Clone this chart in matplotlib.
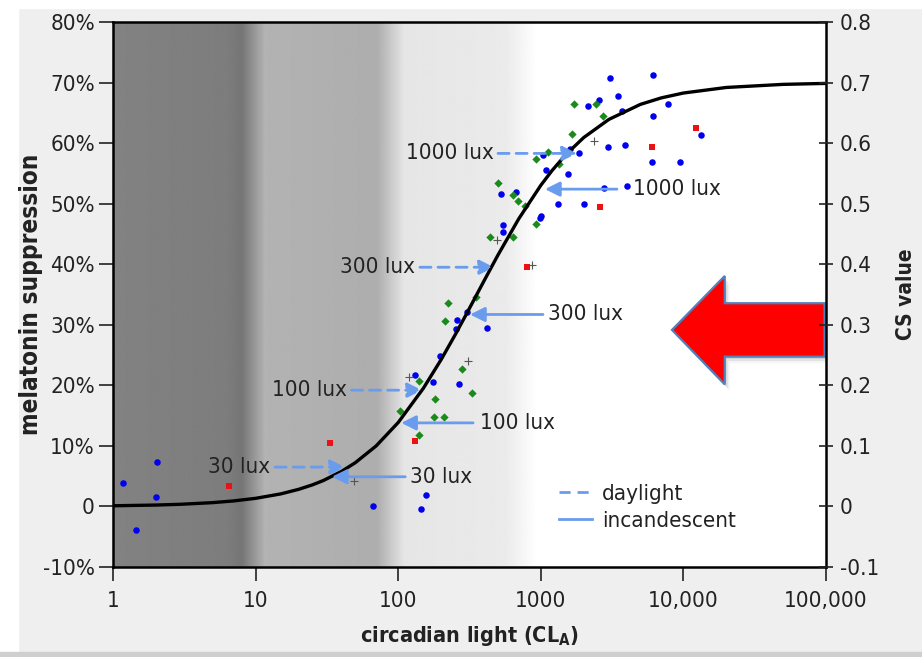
import numpy as np
import matplotlib
matplotlib.use("Agg")
import matplotlib.pyplot as plt
from matplotlib.lines import Line2D
from matplotlib.patches import Polygon, Rectangle

plt.rcParams['font.family'] = 'DejaVu Sans'
plt.rcParams['font.stretch'] = 'condensed'
plt.rcParams['mathtext.fontset'] = 'dejavusans'

# fitted CS curve (x in CL_A, y in % suppression)
curve_x = [1, 2, 3, 5, 7, 10, 15, 20, 25, 30, 40, 50, 70, 100, 150, 200, 250, 300, 400, 500,
           700, 1000, 1200, 1500, 2000, 3000, 5000, 7000, 10000, 20000, 50000, 100000]
curve_y = [0.11, 0.23, 0.36, 0.63, 0.91, 1.34, 2.07, 2.82, 3.56, 4.30, 5.78, 7.22, 9.99, 13.86,
           19.5, 24.25, 28.28, 31.72, 37.26, 41.49, 47.49, 53.03, 55.48, 58.11, 60.92, 63.91,
           66.40, 67.47, 68.27, 69.19, 69.70, 69.86]

# measured points
blue_x = [1.18, 2.05, 2.0, 1.45, 66.9, 144, 157, 302, 257, 254, 419, 197, 132, 175, 268,
          3070, 6080, 3490, 2570, 2140, 3730, 7840, 6080, 13370, 2944, 3920, 6040, 9460,
          1610, 1855, 1040, 1094, 1560, 2775, 4040, 529, 666, 1312, 1995, 1003, 990, 543, 543]
blue_y = [3.8, 7.4, 1.6, -3.9, 0.0, -0.4, 1.9, 32.1, 30.8, 29.3, 29.5, 24.9, 21.7, 20.5, 20.2,
          70.7, 71.2, 67.7, 67.2, 66.1, 65.3, 66.5, 64.4, 61.3, 59.3, 59.7, 56.9, 56.9,
          59.0, 58.4, 58.0, 55.6, 54.9, 52.6, 53.0, 51.6, 51.9, 50.0, 50.0, 48.0, 47.7, 46.4, 45.3]
green_x = [141, 222, 353, 214, 282, 141, 331, 181, 103, 177, 211,
           2450, 1717, 2740, 1663, 1117, 929, 1334, 499, 642, 695, 778, 929, 440, 642]
green_y = [11.8, 33.6, 34.6, 30.6, 22.7, 20.7, 18.7, 17.7, 15.7, 14.8, 14.8,
           66.4, 66.4, 64.4, 61.5, 58.5, 57.4, 56.5, 53.4, 51.4, 50.4, 49.6, 46.6, 44.5, 44.5]
red_x = [6.5, 33.2, 132, 800, 12200, 6010, 2610]
red_y = [3.3, 10.5, 10.8, 39.5, 62.5, 59.4, 49.4]
plus_x = [49, 307, 120, 862, 2350, 490]
plus_y = [4.2, 24.0, 21.4, 39.8, 60.4, 44.0]

# lux arrows: label, tail x, head x, y
day_labels = ['30 lux', '100 lux', '300 lux', '1000 lux']
day_tail = [13.7, 47, 142, 501]
day_head = [42.4, 147, 470, 1795]
day_y = [6.5, 19.2, 39.5, 58.3]
inc_labels = ['30 lux', '100 lux', '300 lux', '1000 lux']
inc_tail = [112, 335, 1036, 3420]
inc_head = [34.3, 105, 319, 1070]
inc_y = [4.9, 13.8, 31.7, 52.4]
inc_text_x = [121, 375, 1123, 4430]

xticks = [1, 10, 100, 1000, 10000, 100000]
xticklabels = ['1', '10', '100', '1000', '10,000', '100,000']
yticks = [-10, 0, 10, 20, 30, 40, 50, 60, 70, 80]
yticklabels = ['-10%', '0', '10%', '20%', '30%', '40%', '50%', '60%', '70%', '80%']
cs_ticks = [-0.1, 0, 0.1, 0.2, 0.3, 0.4, 0.5, 0.6, 0.7, 0.8]
cs_labels = ['-0.1', '0', '0.1', '0.2', '0.3', '0.4', '0.5', '0.6', '0.7', '0.8']

arrow_col = '#6a9cee'
txt_col = '#222222'
fs = 16

fig = plt.figure(figsize=(9.22, 6.57), dpi=100, facecolor='#efefef')
# soft frame around the panel
fig.patches.append(Rectangle((0, 0), 18 / 922, 1, transform=fig.transFigure,
                             color='white', zorder=-5))
fig.patches.append(Rectangle((0, 1 - 8 / 657), 1, 8 / 657, transform=fig.transFigure,
                             color='white', zorder=-5))
fig.patches.append(Rectangle((0, 0), 1, 5 / 657, transform=fig.transFigure,
                             color='#cfcfcf', zorder=-5))

ax = fig.add_axes([113 / 922, 90 / 657, 713 / 922, 545 / 657])
ax.set_xscale('log')
ax.set_xlim(1, 100000)
ax.set_ylim(-10, 80)

# grey light-level bands
lx = np.linspace(0, 5, 1000)
stop_lx = [0, 0.80, 0.90, 1.06, 1.85, 2.04, 2.75, 2.97, 5]
stop_g = [0.51, 0.49, 0.46, 0.70, 0.68, 0.90, 0.92, 1.0, 1.0]
grey = np.interp(lx, stop_lx, stop_g)
ax.imshow(grey[np.newaxis, :], extent=[0, 1, 0, 1], transform=ax.transAxes,
          aspect='auto', cmap='gray', vmin=0, vmax=1, zorder=0, interpolation='bilinear')

ax.scatter(blue_x, blue_y, s=22, c='#0000ee', marker='o', lw=0, zorder=3)
ax.scatter(green_x, green_y, s=18, c='#1a8a1a', marker='D', lw=0, zorder=3)
ax.scatter(red_x, red_y, s=16, c='#ee1111', marker='s', lw=0, zorder=3)
ax.scatter(plus_x, plus_y, s=30, c='#555555', marker='+', lw=0.8, zorder=3)

ax.plot(curve_x, curve_y, color='black', lw=2.4, zorder=4, solid_capstyle='round')

for lab, t, h, y in zip(day_labels, day_tail, day_head, day_y):
    ax.annotate('', xy=(h, y), xytext=(t, y),
                arrowprops=dict(arrowstyle='-|>', color=arrow_col, lw=2, ls=(0, (4, 2.5)),
                                mutation_scale=22, shrinkA=0, shrinkB=0), zorder=5)
    ax.text(t * 0.93, y, lab, ha='right', va='center', fontsize=fs, color=txt_col, zorder=6)

for lab, t, h, y, tx in zip(inc_labels, inc_tail, inc_head, inc_y, inc_text_x):
    ax.annotate('', xy=(h, y), xytext=(t, y),
                arrowprops=dict(arrowstyle='-|>', color=arrow_col, lw=2,
                                mutation_scale=22, shrinkA=0, shrinkB=0), zorder=5)
    ax.text(tx, y, lab, ha='left', va='center', fontsize=fs, color=txt_col, zorder=6)

handles = [Line2D([], [], color=arrow_col, lw=2, ls=(0, (4, 2.5))),
           Line2D([], [], color=arrow_col, lw=2)]
ax.legend(handles, ['daylight', 'incandescent'], loc='upper left',
          bbox_to_anchor=(0.625, 0.152), frameon=False, fontsize=fs,
          handlelength=1.5, handletextpad=0.45, borderaxespad=0, borderpad=0,
          labelspacing=0.3, labelcolor=txt_col)

# big red arrow pointing at the curve plateau
arrow_pts = [(0.784, 0.435), (0.858, 0.534), (0.858, 0.484), (0.998, 0.484),
             (0.998, 0.386), (0.858, 0.386), (0.858, 0.335)]
for k, a in enumerate([0.10, 0.07, 0.04]):
    d = 0.004 * (k + 1)
    shadow = [(px + d * 0.6, py - d) for px, py in arrow_pts]
    ax.add_patch(Polygon(shadow, closed=True, transform=ax.transAxes,
                         facecolor='black', edgecolor='none', alpha=a, zorder=6))
ax.add_patch(Polygon(arrow_pts, closed=True, transform=ax.transAxes, facecolor='#ff0000',
                     edgecolor='#4f81bd', lw=1.6, zorder=7))

ax.set_xticks(xticks)
ax.set_xticklabels(xticklabels)
ax.xaxis.set_minor_locator(matplotlib.ticker.NullLocator())
ax.set_yticks(yticks)
ax.set_yticklabels(yticklabels)
ax.tick_params(axis='both', labelsize=fs, length=10, width=1.2, colors=txt_col,
               direction='out', pad=3)
ax.tick_params(axis='x', pad=7)
for s in ax.spines.values():
    s.set_linewidth(1.8)
    s.set_zorder(8)

ax.set_xlabel(r'circadian light (CL$_{\mathbf{A}}$)', fontsize=15.5, fontweight='bold',
              color=txt_col, labelpad=10)
ax.set_ylabel('melatonin suppression', fontsize=17.5, fontweight='bold', color=txt_col,
              labelpad=0)

ax2 = ax.twinx()
ax2.set_ylim(-0.1, 0.8)
ax2.set_yticks(cs_ticks)
ax2.set_yticklabels(cs_labels)
ax2.tick_params(axis='y', labelsize=fs, length=10, width=1.2, colors=txt_col,
                direction='inout', pad=5)
ax2.set_ylabel('CS value', fontsize=15, fontweight='bold', color=txt_col, labelpad=12)
for s in ax2.spines.values():
    s.set_visible(False)

fig.savefig('out.png', dpi=100, facecolor=fig.get_facecolor())
